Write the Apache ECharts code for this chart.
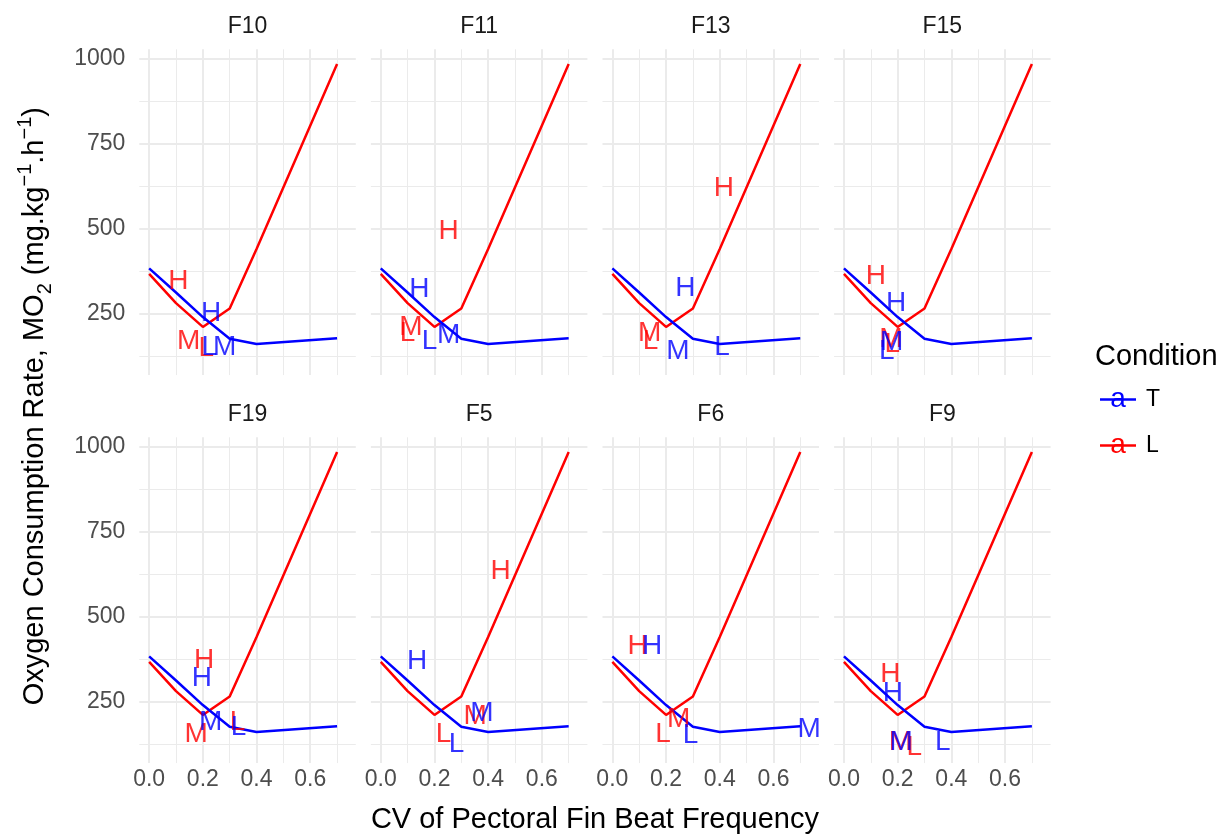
<!DOCTYPE html>
<html>
<head>
<meta charset="utf-8">
<script src="https://cdn.jsdelivr.net/npm/echarts@6/dist/echarts.min.js"></script>
<style>
html,body{margin:0;padding:0;background:#fff;}
#chart{width:1222px;height:836px;}
</style>
</head>
<body>
<div id="chart"></div>
<script>
// ---------- data ----------
const facets = ['F10', 'F11', 'F13', 'F15', 'F19', 'F5', 'F6', 'F9'];
const conditions = ['T', 'L'];
const levels = ['H', 'M', 'L'];

// condition lines (same in every facet)
const cvT  = [0, 0.1, 0.2, 0.3, 0.4, 0.7];
const mo2T = [383, 312, 240, 176, 161, 178];
const cvL  = [0, 0.1, 0.2, 0.3, 0.4, 0.7];
const mo2L = [367, 281, 211, 265, 440, 983];

// text labels per facet, order H, M, L
const labT_cv  = [[0.231,0.281,0.224],[0.144,0.253,0.182],[0.272,0.244,0.409],[0.194,0.178,0.160],
                  [0.196,0.229,0.333],[0.135,0.377,0.282],[0.148,0.733,0.291],[0.182,0.213,0.368]];
const labT_mo2 = [[250,152,152],[322,185,168],[325,139,152],[279,166,139],
                  [320,188,174],[369,216,125],[413,169,151],[276,130,130]];
const labL_cv  = [[0.109,0.147,0.213],[0.253,0.112,0.100],[0.415,0.139,0.142],[0.119,0.175,0.180],
                  [0.205,0.175,0.329],[0.446,0.352,0.234],[0.094,0.247,0.189],[0.173,0.210,0.262]];
const labL_mo2 = [[345,169,147],[491,211,191],[619,193,168],[359,176,160],
                  [372,154,188],[633,208,154],[413,198,154],[330,132,115]];

const xMajor = [0, 0.2, 0.4, 0.6];
const xMinor = [0.1, 0.3, 0.5, 0.7];
const yMajor = [250, 500, 750, 1000];
const yMinor = [125, 375, 625, 875];

// ---------- layout ----------
const FONT = '"Liberation Sans", Arial, Helvetica, sans-serif';
const BLUE = '#0000FF', RED = '#FF0000';
const panelLeft = [139.3, 370.9, 602.5, 834.1];
const panelTop = [49.3, 437.3];
const panelW = 216.5, panelH = 325.8;
const XMIN = -0.0367, XMAX = 0.7697;
const YMIN = 69.5, YMAX = 1026.5;

const grid = [], xAxis = [], yAxis = [], series = [], graphic = [];

facets.forEach((f, i) => {
  const col = i % 4, row = Math.floor(i / 4);
  grid.push({left: panelLeft[col], top: panelTop[row], width: panelW, height: panelH, containLabel: false});
  const bottom = row === 1, left = col === 0;
  xAxis.push({
    type: 'value', gridIndex: i, min: XMIN, max: XMAX,
    axisLine: {show: false},
    axisTick: {show: false, customValues: xMajor},
    axisLabel: {show: bottom, customValues: xMajor, formatter: v => v.toFixed(1),
      fontSize: 23, color: '#4D4D4D', fontFamily: FONT, margin: 5},
    splitLine: {show: true, lineStyle: {color: '#EBEBEB', width: 2}}
  });
  xAxis.push({
    type: 'value', gridIndex: i, min: XMIN, max: XMAX,
    axisLine: {show: false},
    axisTick: {show: false, customValues: xMinor},
    axisLabel: {show: false, customValues: xMinor},
    splitLine: {show: true, lineStyle: {color: '#EBEBEB', width: 1}}
  });
  yAxis.push({
    type: 'value', gridIndex: i, min: YMIN, max: YMAX,
    axisLine: {show: false},
    axisTick: {show: false, customValues: yMajor},
    axisLabel: {show: left, customValues: yMajor, formatter: v => String(Math.round(v)),
      fontSize: 23, color: '#4D4D4D', fontFamily: FONT, margin: 14},
    splitLine: {show: true, lineStyle: {color: '#EBEBEB', width: 2}}
  });
  yAxis.push({
    type: 'value', gridIndex: i, min: YMIN, max: YMAX,
    axisLine: {show: false},
    axisTick: {show: false, customValues: yMinor},
    axisLabel: {show: false, customValues: yMinor},
    splitLine: {show: true, lineStyle: {color: '#EBEBEB', width: 1}}
  });

  const xi = 2 * i, yi = 2 * i;
  series.push({
    type: 'line', name: 'L', xAxisIndex: xi, yAxisIndex: yi, symbol: 'none', z: 3,
    lineStyle: {color: RED, width: 2.5}, itemStyle: {color: RED},
    data: cvL.map((x, j) => [x, mo2L[j]])
  });
  series.push({
    type: 'line', name: 'T', xAxisIndex: xi, yAxisIndex: yi, symbol: 'none', z: 4,
    lineStyle: {color: BLUE, width: 2.5}, itemStyle: {color: BLUE},
    data: cvT.map((x, j) => [x, mo2T[j]])
  });
  const mkLab = (cvs, mo2s, color, z) => ({
    type: 'scatter', xAxisIndex: xi, yAxisIndex: yi, z: z, symbol: 'circle', symbolSize: 2, silent: true,
    itemStyle: {color: 'rgba(0,0,0,0)'},
    label: {show: true, position: 'inside', formatter: '{b}', color: color, fontSize: 28, fontFamily: FONT},
    labelLayout: {hideOverlap: false},
    data: levels.map((lv, j) => ({name: lv, value: [cvs[j], mo2s[j]]}))
  });
  series.push(mkLab(labL_cv[i], labL_mo2[i], RED, 5));
  series.push(mkLab(labT_cv[i], labT_mo2[i], BLUE, 6));

  graphic.push({
    type: 'text', x: panelLeft[col] + panelW / 2, y: panelTop[row] - 23,
    style: {text: f, font: '23px ' + FONT, fill: '#1A1A1A', align: 'center', verticalAlign: 'middle'}
  });
});

graphic.push({
  type: 'text', x: (panelLeft[0] + panelLeft[3] + panelW) / 2, y: 820,
  style: {text: 'CV of Pectoral Fin Beat Frequency', font: '29px ' + FONT, fill: '#000',
    align: 'center', verticalAlign: 'middle'}
});
graphic.push({
  type: 'text', x: 35, y: (panelTop[0] + panelTop[1] + panelH) / 2, rotation: Math.PI / 2,
  style: {
    text: '{m|Oxygen Consumption Rate, MO}{sub|2}{m| (mg.kg}{sup|−1}{m|.h}{sup|−1}{m|)}',
    align: 'center', verticalAlign: 'middle',
    rich: {
      m: {fontSize: 29, fontFamily: FONT, fill: '#000', color: '#000', lineHeight: 40, verticalAlign: 'middle'},
      sub: {fontSize: 20, fontFamily: FONT, fill: '#000', color: '#000', lineHeight: 40, verticalAlign: 'bottom'},
      sup: {fontSize: 20, fontFamily: FONT, fill: '#000', color: '#000', lineHeight: 40, verticalAlign: 'top'}
    }
  }
});

graphic.push({
  type: 'text', x: 1095, y: 357,
  style: {text: 'Condition', font: '29px ' + FONT, fill: '#000', align: 'left', verticalAlign: 'middle'}
});
const legendY = [399.5, 445.5];
conditions.forEach((c, k) => {
  const col = c === 'T' ? BLUE : RED;
  graphic.push({type: 'line', shape: {x1: 1100, y1: legendY[k], x2: 1136, y2: legendY[k]},
    style: {stroke: col, lineWidth: 2.5}});
  graphic.push({type: 'text', x: 1118, y: legendY[k],
    style: {text: 'a', font: '28px ' + FONT, fill: col, align: 'center', verticalAlign: 'middle'}});
  graphic.push({type: 'text', x: 1146, y: legendY[k],
    style: {text: c, font: '23px ' + FONT, fill: '#000', align: 'left', verticalAlign: 'middle'}});
});

const chart = echarts.init(document.getElementById('chart'));
chart.setOption({
  animation: false,
  backgroundColor: '#fff',
  grid: grid,
  xAxis: xAxis,
  yAxis: yAxis,
  series: series,
  graphic: graphic
});
</script>
</body>
</html>
